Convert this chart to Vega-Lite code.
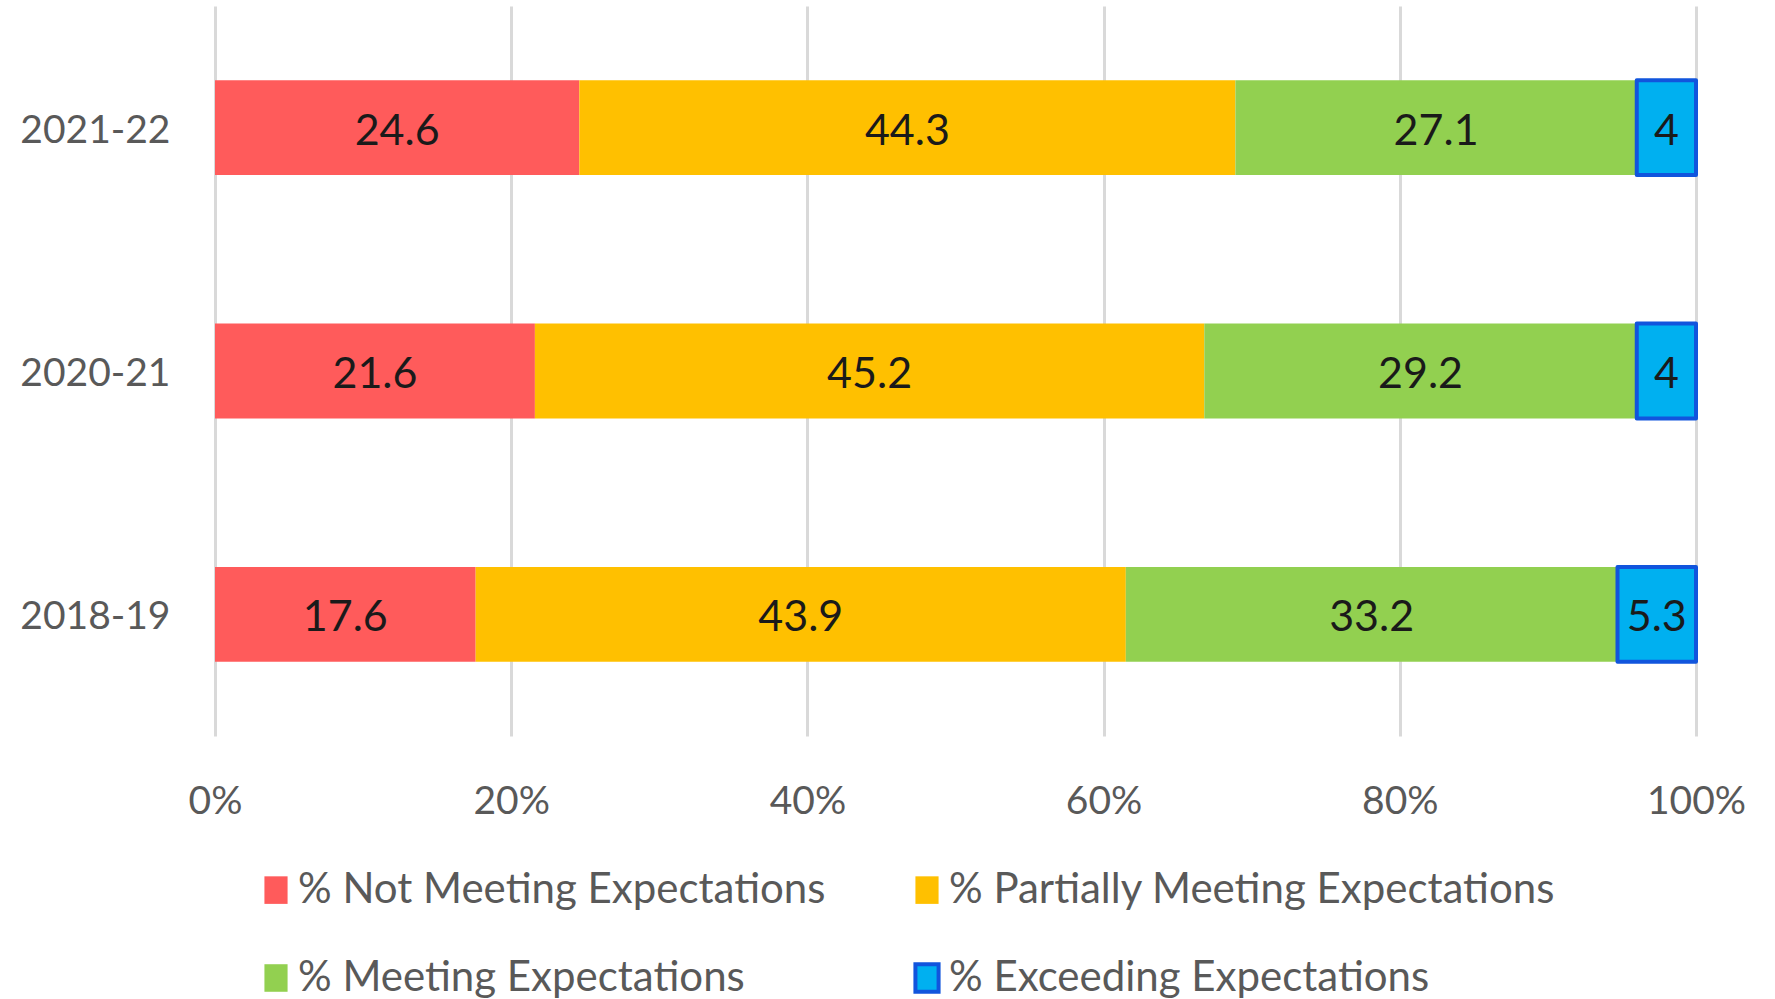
{
  "$schema": "https://vega.github.io/schema/vega-lite/v6.json",
  "width": 1481,
  "height": 730,
  "autosize": {"type": "none"},
  "padding": {"left": 215, "top": 6, "right": 79, "bottom": 263},
  "background": "white",
  "config": {
    "view": {"stroke": null},
    "font": "Lato"
  },
  "data": {
    "values": [
      {"year": "2021-22", "category": "% Not Meeting Expectations", "rank": 1, "value": 24.6},
      {"year": "2021-22", "category": "% Partially Meeting Expectations", "rank": 2, "value": 44.3},
      {"year": "2021-22", "category": "% Meeting Expectations", "rank": 3, "value": 27.1},
      {"year": "2021-22", "category": "% Exceeding Expectations", "rank": 4, "value": 4},
      {"year": "2020-21", "category": "% Not Meeting Expectations", "rank": 1, "value": 21.6},
      {"year": "2020-21", "category": "% Partially Meeting Expectations", "rank": 2, "value": 45.2},
      {"year": "2020-21", "category": "% Meeting Expectations", "rank": 3, "value": 29.2},
      {"year": "2020-21", "category": "% Exceeding Expectations", "rank": 4, "value": 4},
      {"year": "2018-19", "category": "% Not Meeting Expectations", "rank": 1, "value": 17.6},
      {"year": "2018-19", "category": "% Partially Meeting Expectations", "rank": 2, "value": 43.9},
      {"year": "2018-19", "category": "% Meeting Expectations", "rank": 3, "value": 33.2},
      {"year": "2018-19", "category": "% Exceeding Expectations", "rank": 4, "value": 5.3}
    ]
  },
  "encoding": {
    "y": {
      "field": "year",
      "type": "nominal",
      "sort": ["2021-22", "2020-21", "2018-19"],
      "scale": {"paddingInner": 0.61, "paddingOuter": 0.305},
      "axis": {
        "title": null,
        "domain": false,
        "ticks": false,
        "labelFontSize": 39,
        "labelColor": "#595959",
        "labelPadding": 45,
        "labelOffset": 3,
        "grid": false
      }
    },
    "x": {
      "field": "value",
      "type": "quantitative",
      "stack": "zero",
      "scale": {"domain": [0, 100], "nice": false},
      "axis": {
        "title": null,
        "values": [0, 20, 40, 60, 80, 100],
        "labelExpr": "datum.value + '%'",
        "domain": false,
        "ticks": false,
        "grid": true,
        "gridColor": "#D9D9D9",
        "gridWidth": 3,
        "labelFontSize": 39,
        "labelColor": "#595959",
        "labelPadding": 46,
        "labelFlush": false
      }
    },
    "order": {"field": "rank", "type": "quantitative"}
  },
  "layer": [
    {
      "mark": {"type": "bar", "strokeWidth": 4, "strokeJoin": "round"},
      "encoding": {
        "color": {
          "field": "category",
          "type": "nominal",
          "scale": {
            "domain": ["% Not Meeting Expectations", "% Partially Meeting Expectations", "% Meeting Expectations", "% Exceeding Expectations"],
            "range": ["#FF5B5B", "#FFC000", "#92D050", "#00B0F0"]
          },
          "legend": {
            "title": null,
            "orient": "none",
            "direction": "horizontal",
            "legendX": 40,
            "legendY": 863,
            "columns": 2,
            "columnPadding": 80,
            "rowPadding": 44,
            "padding": 0,
            "labelFontSize": 42,
            "labelColor": "#595959",
            "labelOffset": 1,
            "labelLimit": 0,
            "symbolType": "M-0.84,-1H0.84V1H-0.84Z",
            "symbolSize": 760,
            "symbolStrokeWidth": 4,
            "symbolOpacity": 1
          }
        },
        "stroke": {
          "field": "category",
          "type": "nominal",
          "scale": {
            "domain": ["% Not Meeting Expectations", "% Partially Meeting Expectations", "% Meeting Expectations", "% Exceeding Expectations"],
            "range": ["transparent", "transparent", "transparent", "#1155DD"]
          }
        }
      }
    },
    {
      "mark": {"type": "text", "fontSize": 43, "color": "#1a1a1a", "align": "center", "baseline": "middle", "dy": 4},
      "encoding": {
        "x": {"field": "value", "type": "quantitative", "stack": "zero", "bandPosition": 0.5},
        "text": {"field": "value", "type": "quantitative", "format": ".1~f"}
      }
    }
  ]
}
